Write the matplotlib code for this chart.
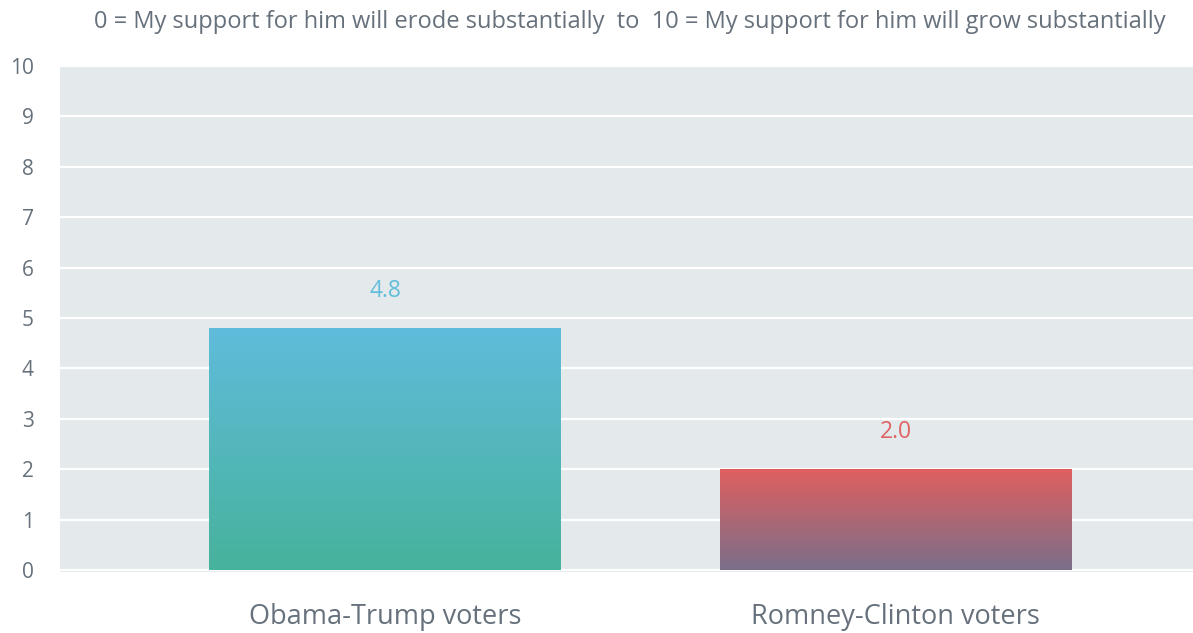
import numpy as np
import matplotlib
matplotlib.use('Agg')
import matplotlib.pyplot as plt
from matplotlib.colors import LinearSegmentedColormap

plt.rcParams['font.family'] = ['Open Sans', 'DejaVu Sans']

# === Data ===
groups = ["Obama-Trump voters", "Romney-Clinton voters"]
scores = [4.8, 2.0]
top_colors = ["#5fbcdb", "#e05f5f"]
bottom_colors = ["#47b29c", "#7a6f8a"]
label_colors = ["#62bedb", "#e06262"]
title = "0 = My support for him will erode substantially  to  10 = My support for him will grow substantially"

text_grey = "#66717c"

fig = plt.figure(figsize=(11.93, 6.33), dpi=100)
ax = fig.add_axes([60 / 1193, 61 / 633, 1 - 60 / 1193, 506 / 633])
ax.set_facecolor("#e4e9ec")

x = np.arange(len(groups))
bars = ax.bar(x, scores, width=0.69, color="none", edgecolor="none", zorder=2)

# vertical gradient inside each bar
grad = np.linspace(0, 1, 256).reshape(-1, 1)
for bar, c_top, c_bot in zip(bars, top_colors, bottom_colors):
    cmap = LinearSegmentedColormap.from_list("g", [c_bot, c_top])
    x0, y0 = bar.get_x(), bar.get_y()
    w, h = bar.get_width(), bar.get_height()
    im = ax.imshow(grad, cmap=cmap, aspect="auto", origin="lower",
                   extent=[x0, x0 + w, y0, y0 + h], zorder=3)
    im.set_clip_path(bar)

for xi, v, c in zip(x, scores, label_colors):
    ax.annotate(f"{v:.1f}", (xi, v), xytext=(0, 27), textcoords="offset points",
                ha="center", va="center", fontsize=16.5, color=c)

ax.set_xlim(-0.638, 1.583)
ax.set_ylim(-0.04, 10)
ax.set_yticks(range(0, 11))
ax.set_xticks(x)
ax.set_xticklabels(groups)
ax.grid(axis="y", color="white", linewidth=1.6, zorder=1)
ax.set_axisbelow(True)
for s in ax.spines.values():
    s.set_visible(False)
ax.tick_params(axis="y", length=0, pad=19, labelsize=15, labelcolor=text_grey)
ax.tick_params(axis="x", length=0, pad=22, labelsize=19.5, labelcolor=text_grey)

fig.text(0.528, 0.965, title, ha="center", va="center", fontsize=17, color=text_grey)

fig.savefig("out.png", dpi=100)
